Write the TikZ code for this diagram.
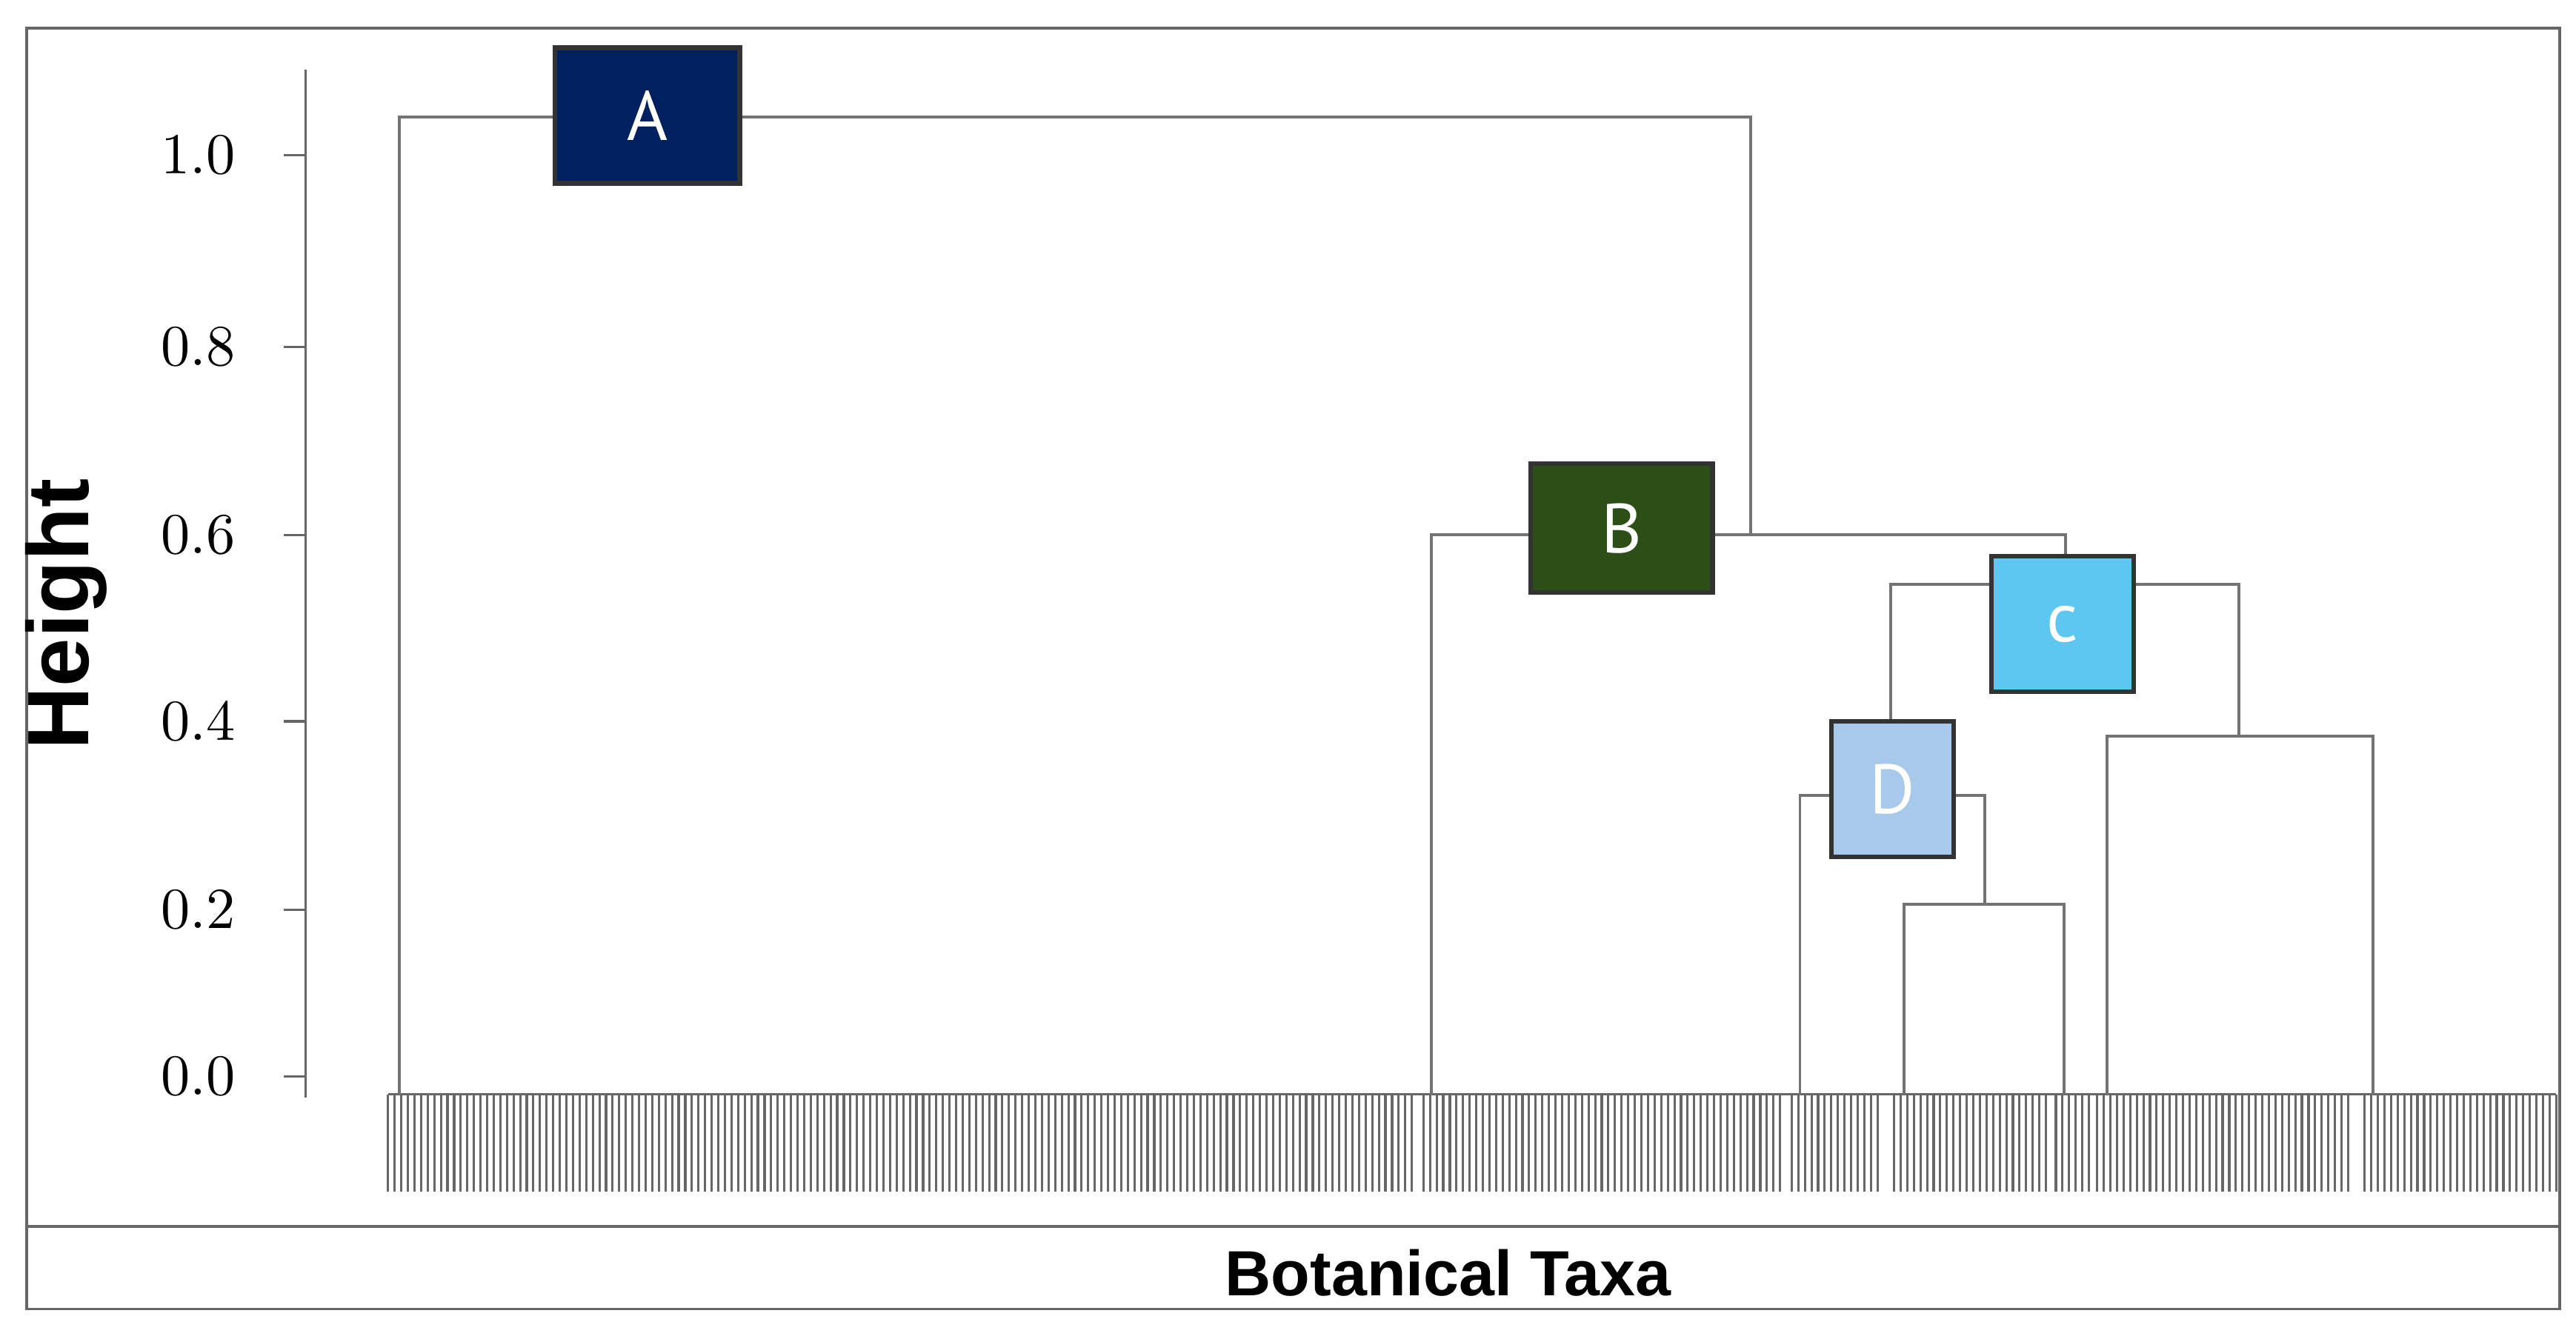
\documentclass[tikz,border=0pt]{standalone}
\usepackage{fontspec}
\newfontfamily\sansf{Liberation Sans}
\newfontfamily\narrowf{PT Sans}
\usetikzlibrary{positioning}
\definecolor{clA}{HTML}{002060}
\definecolor{clB}{HTML}{2B4F16}
\definecolor{clC}{HTML}{5CC8F0}
\definecolor{clD}{HTML}{A9C9EC}
\newcommand\leafy{663}
\newcommand\leafend{722}

\begin{document}
\begin{tikzpicture}[x=0.01cm,y=-0.01cm,
    branch/.style={draw=black!55, line width=0.5pt},
    clus/.style={draw=black!80, line width=0.8pt, text=white,
      font=\narrowf\fontsize{12}{12}\selectfont, inner sep=0pt},
    tick/.style={draw=black!60, line width=0.4pt}]
  \useasboundingbox (0,0) rectangle (1560,811);
  % frame
  \draw[black!60, line width=0.5pt] (16,17) rectangle (1550,793);
  \draw[black!60, line width=0.5pt] (16,743) -- (1550,743);
  \node[font=\sansf\bfseries\fontsize{11}{11}\selectfont] (taxa) at (877,771) {Botanical Taxa};
  \node[font=\sansf\bfseries\fontsize{15}{15}\selectfont, rotate=90] (hlab) at (40,372) {Height};
  % axis
  \coordinate (ytop) at (185,42);
  \coordinate (ybot) at (185,665);
  \draw[tick] (ytop) -- (ybot);
  \foreach \v/\yy in {1.0/94, 0.8/210, 0.6/324, 0.4/437, 0.2/551, 0.0/652} {
    \draw[tick] (172,\yy) -- (185,\yy);
    \node[font=\fontsize{10}{10}\selectfont] at (120,\yy) {\v};
  }
  % leaves
  \draw[tick] (235,\leafy) -- (1548,\leafy);
  \foreach \a/\b in {235/857, 862/1080, 1085/1140, 1147/1240, 1245/1265, 1270/1425, 1432/1548} {
    \pgfmathtruncatemacro\nn{(\b-\a)/4}
    \foreach \k in {0,...,\nn} {
      \draw[tick] (\a+4*\k,\leafy) -- (\a+4*\k,\leafend);
    }
  }
  % merge points
  \coordinate (rl) at (242,71);   \coordinate (rr) at (1060,71);
  \coordinate (bl) at (867,324);  \coordinate (br) at (1251,324);
  \coordinate (cl) at (1145,354); \coordinate (cr) at (1356,354);
  \coordinate (dl) at (1090,482); \coordinate (dr) at (1202,482);
  \coordinate (el) at (1153,548); \coordinate (er) at (1250,548);
  \coordinate (fl) at (1276,446); \coordinate (fr) at (1437,446);
  % branches
  \draw[branch] (242,\leafy) -- (rl) -- (rr) -- (1060,324);
  \draw[branch] (867,\leafy) -- (bl) -- (br) -- (1251,354);
  \draw[branch] (1145,482) -- (cl) -- (cr) -- (1356,446);
  \draw[branch] (1090,\leafy) -- (dl) -- (dr) -- (1202,548);
  \draw[branch] (1153,\leafy) -- (el) -- (er) -- (1250,\leafy);
  \draw[branch] (1276,\leafy) -- (fl) -- (fr) -- (1437,\leafy);
  % cluster boxes
  \node[clus, fill=clA, minimum width=1.12cm, minimum height=0.82cm] (A) at (392,70) {A};
  \node[clus, fill=clB, minimum width=1.10cm, minimum height=0.78cm] (B) at (982,320) {B};
  \node[clus, fill=clC, minimum width=0.86cm, minimum height=0.82cm] (C) at (1249,378) {c};
  \node[clus, fill=clD, minimum width=0.74cm, minimum height=0.82cm] (D) at (1146,478) {D};
\end{tikzpicture}
\end{document}
